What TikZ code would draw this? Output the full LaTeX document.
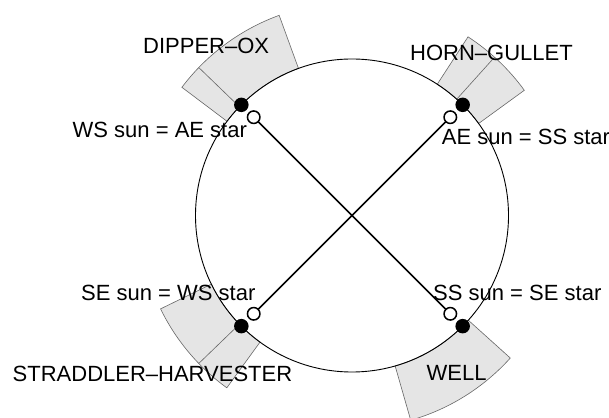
\documentclass[tikz,border=0pt]{standalone}
\usepackage{fontspec}
\setmainfont{Liberation Sans}

\tikzset{
  lbl/.style={inner sep=0pt, anchor=base west, font=\fontsize{22}{24}\selectfont},
  sunpt/.style={circle, fill=black, inner sep=0pt, minimum size=14.5pt},
  starpt/.style={circle, draw=black, fill=white, line width=1.5pt, inner sep=0pt, minimum size=12.5pt},
  lodge/.style={fill=gray!20, draw=black!60, line width=0.6pt},
}

\begin{document}
\begin{tikzpicture}[x=1pt,y=1pt]
\useasboundingbox (0,0) rectangle (609,417);
\coordinate (C) at (352,201.5);
% lunar lodges outside the circle
\foreach \a/\b in {110/143,36/57,206/234,286/318}
  \draw[lodge] ([shift={(\a:156.5)}]C) arc[start angle=\a, end angle=\b, radius=156.5]
    -- ([shift={(\b:213)}]C) arc[start angle=\b, end angle=\a, radius=213] -- cycle;
\foreach \d in {136,48,224}
  \draw[black!60, line width=0.6pt] ([shift={(\d:156.5)}]C) -- ([shift={(\d:213)}]C);
\node[circle, draw, line width=0.9pt, inner sep=0pt, outer sep=0pt, minimum size=313pt] (dial) at (C) {};
% star points and sun points
\foreach \n/\a in {nw/135,ne/45,sw/225,se/315}
  \path ([shift={(\a:139)}]C) coordinate (s\n);
\draw[line width=1.6pt] (snw) -- (sse)
      (sne) -- (ssw);
\foreach \n/\a in {nw/135,ne/45,sw/225,se/315}{
  \node[starpt] (star\n) at (s\n) {};
  \node[sunpt] (sun\n) at (dial.\a) {};
}
% labels
\node[lbl] (dipper) at (143,363) {DIPPER--OX};
\node[lbl] (horn) at (410,356.3) {HORN--GULLET};
\node[lbl] (wssun) at (72.5,279.7) {WS sun = AE star};
\node[lbl] (aesun) at (441.7,272) {AE sun = SS star};
\node[lbl] (sesun) at (81,116) {SE sun = WS star};
\node[lbl] (sssun) at (433,116) {SS sun = SE star};
\node[lbl] (straddler) at (12.5,36) {STRADDLER--HARVESTER};
\node[lbl] (well) at (426.5,36.3) {WELL};
\end{tikzpicture}
\end{document}
